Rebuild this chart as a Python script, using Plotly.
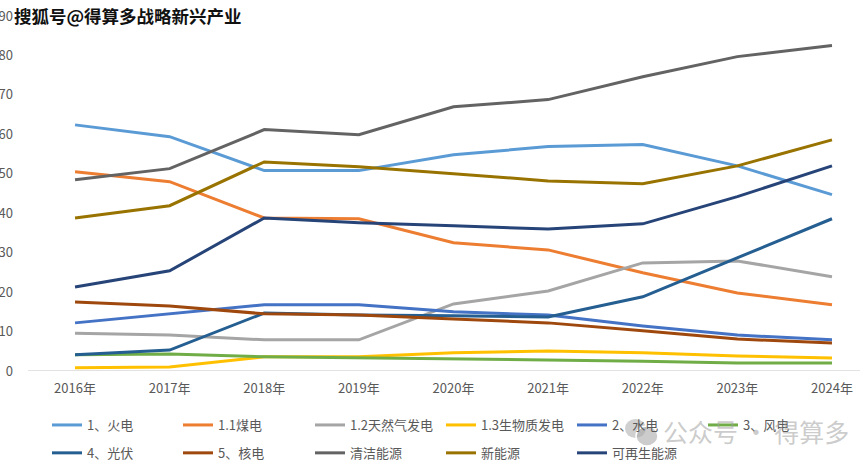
import plotly.graph_objects as go

years = [2016, 2017, 2018, 2019, 2020, 2021, 2022, 2023, 2024]
year_labels = [f"{y}年" for y in years]

names = ["1、火电", "1.1煤电", "1.2天然气发电", "1.3生物质发电", "2、水电", "3、风电",
         "4、光伏", "5、核电", "清洁能源", "新能源", "可再生能源"]

huodian = [62.4, 59.4, 50.8, 50.8, 54.8, 56.9, 57.4, 52.0, 44.7]
meidian = [50.5, 48.0, 38.8, 38.6, 32.5, 30.7, 24.9, 19.8, 16.8]
tianranqi = [9.6, 9.1, 7.9, 7.9, 17.0, 20.3, 27.4, 27.9, 23.9]
shengwuzhi = [0.8, 1.0, 3.6, 3.6, 4.6, 5.1, 4.6, 3.8, 3.3]
shuidian = [12.2, 14.5, 16.8, 16.8, 15.0, 14.2, 11.4, 9.1, 7.9]
fengdian = [4.1, 4.3, 3.6, 3.3, 3.0, 2.8, 2.5, 2.0, 2.0]
guangfu = [4.1, 5.3, 14.7, 14.2, 14.0, 13.7, 18.8, 28.7, 38.6]
hedian = [17.5, 16.5, 14.5, 14.2, 13.2, 12.2, 10.2, 8.1, 7.1]
qingjie = [48.5, 51.3, 61.2, 59.9, 67.0, 68.8, 74.6, 79.7, 82.5]
xinnengyuan = [38.8, 41.9, 53.0, 51.8, 50.0, 48.2, 47.5, 52.0, 58.6]
kezaisheng = [21.3, 25.4, 38.8, 37.6, 36.8, 36.0, 37.3, 44.2, 52.0]

series = [huodian, meidian, tianranqi, shengwuzhi, shuidian, fengdian,
          guangfu, hedian, qingjie, xinnengyuan, kezaisheng]
colors = ["#5B9BD5", "#ED7D31", "#A5A5A5", "#FFC000", "#4472C4", "#70AD47",
          "#255E91", "#9E480E", "#636363", "#997300", "#264478"]

y_ticks = [0, 10, 20, 30, 40, 50, 60, 70, 80, 90]

W, H = 865, 466
L, T, B = 28, 16, 95
PW, PH = W - L, H - T - B

# legend columns (left edge of legend box, px)
col_x = [47, 178, 310, 441, 572, 703]

fig = go.Figure()
for i, (n, s, c) in enumerate(zip(names, series, colors)):
    col = i % 6
    leg = "legend" if col == 0 else f"legend{col + 1}"
    fig.add_trace(go.Scatter(x=years, y=s, name=n, mode="lines",
                             line=dict(color=c, width=3),
                             legend=leg, legendgroup=f"g{i}"))

leg_common = dict(orientation="v", xref="container", yref="container",
                  xanchor="left", yanchor="top",
                  bgcolor="rgba(0,0,0,0)", tracegroupgap=8,
                  font=dict(size=13, color="#595959"),
                  itemwidth=30)

legends = {}
for k, cx in enumerate(col_x):
    key = "legend" if k == 0 else f"legend{k + 1}"
    legends[key] = dict(x=cx / W, y=1 - 410 / H, **leg_common)

fig.update_layout(
    width=W, height=H,
    margin=dict(l=L, r=0, t=T, b=B, autoexpand=False),
    paper_bgcolor="white", plot_bgcolor="white",
    font=dict(family="Noto Sans CJK SC", size=13, color="#595959"),
    showlegend=True,
    xaxis=dict(range=[2015.503, 2024.349], tickvals=years, ticktext=year_labels,
               showgrid=False, zeroline=False, showline=False, ticks="",
               ticklabelstandoff=8,
               tickfont=dict(size=13, color="#595959")),
    yaxis=dict(range=[0, 90], tickvals=y_ticks, showgrid=False, zeroline=False,
               showline=False, ticks="", ticklabelstandoff=14,
               tickfont=dict(size=13, color="#595959")),
    **legends,
)

# baseline at 0
fig.add_shape(type="line", xref="paper", yref="y", x0=0, x1=(860 - L) / PW, y0=0, y1=0,
              line=dict(color="#D9D9D9", width=1.5), layer="below")

# watermark top-left
fig.add_annotation(xref="paper", yref="paper", x=(12 - L) / PW, y=1 + 1 / PH,
                   xanchor="left", yanchor="middle", showarrow=False,
                   text="<b>搜狐号@得算多战略新兴产业</b>",
                   font=dict(family="Noto Sans CJK SC", size=17.5, color="#111111"))

# watermark bottom-right
fig.add_shape(type="circle", xref="paper", yref="paper",
              x0=(625 - L) / PW, x1=(646 - L) / PW,
              y0=-(438 - 371) / PH, y1=-(419 - 371) / PH,
              fillcolor="rgba(170,170,170,0.55)", line=dict(width=0))
fig.add_shape(type="circle", xref="paper", yref="paper",
              x0=(636 - L) / PW, x1=(658 - L) / PW,
              y0=-(446 - 371) / PH, y1=-(426 - 371) / PH,
              fillcolor="rgba(170,170,170,0.6)", line=dict(color="white", width=1.5))
fig.add_annotation(xref="paper", yref="paper", x=(661 - L) / PW, y=-(431 - 371) / PH,
                   xanchor="left", yanchor="middle", showarrow=False,
                   text="公众号 · 得算多",
                   font=dict(family="Noto Sans CJK SC", size=25, color="rgba(160,160,160,0.55)"))

fig.write_html("out.html")
